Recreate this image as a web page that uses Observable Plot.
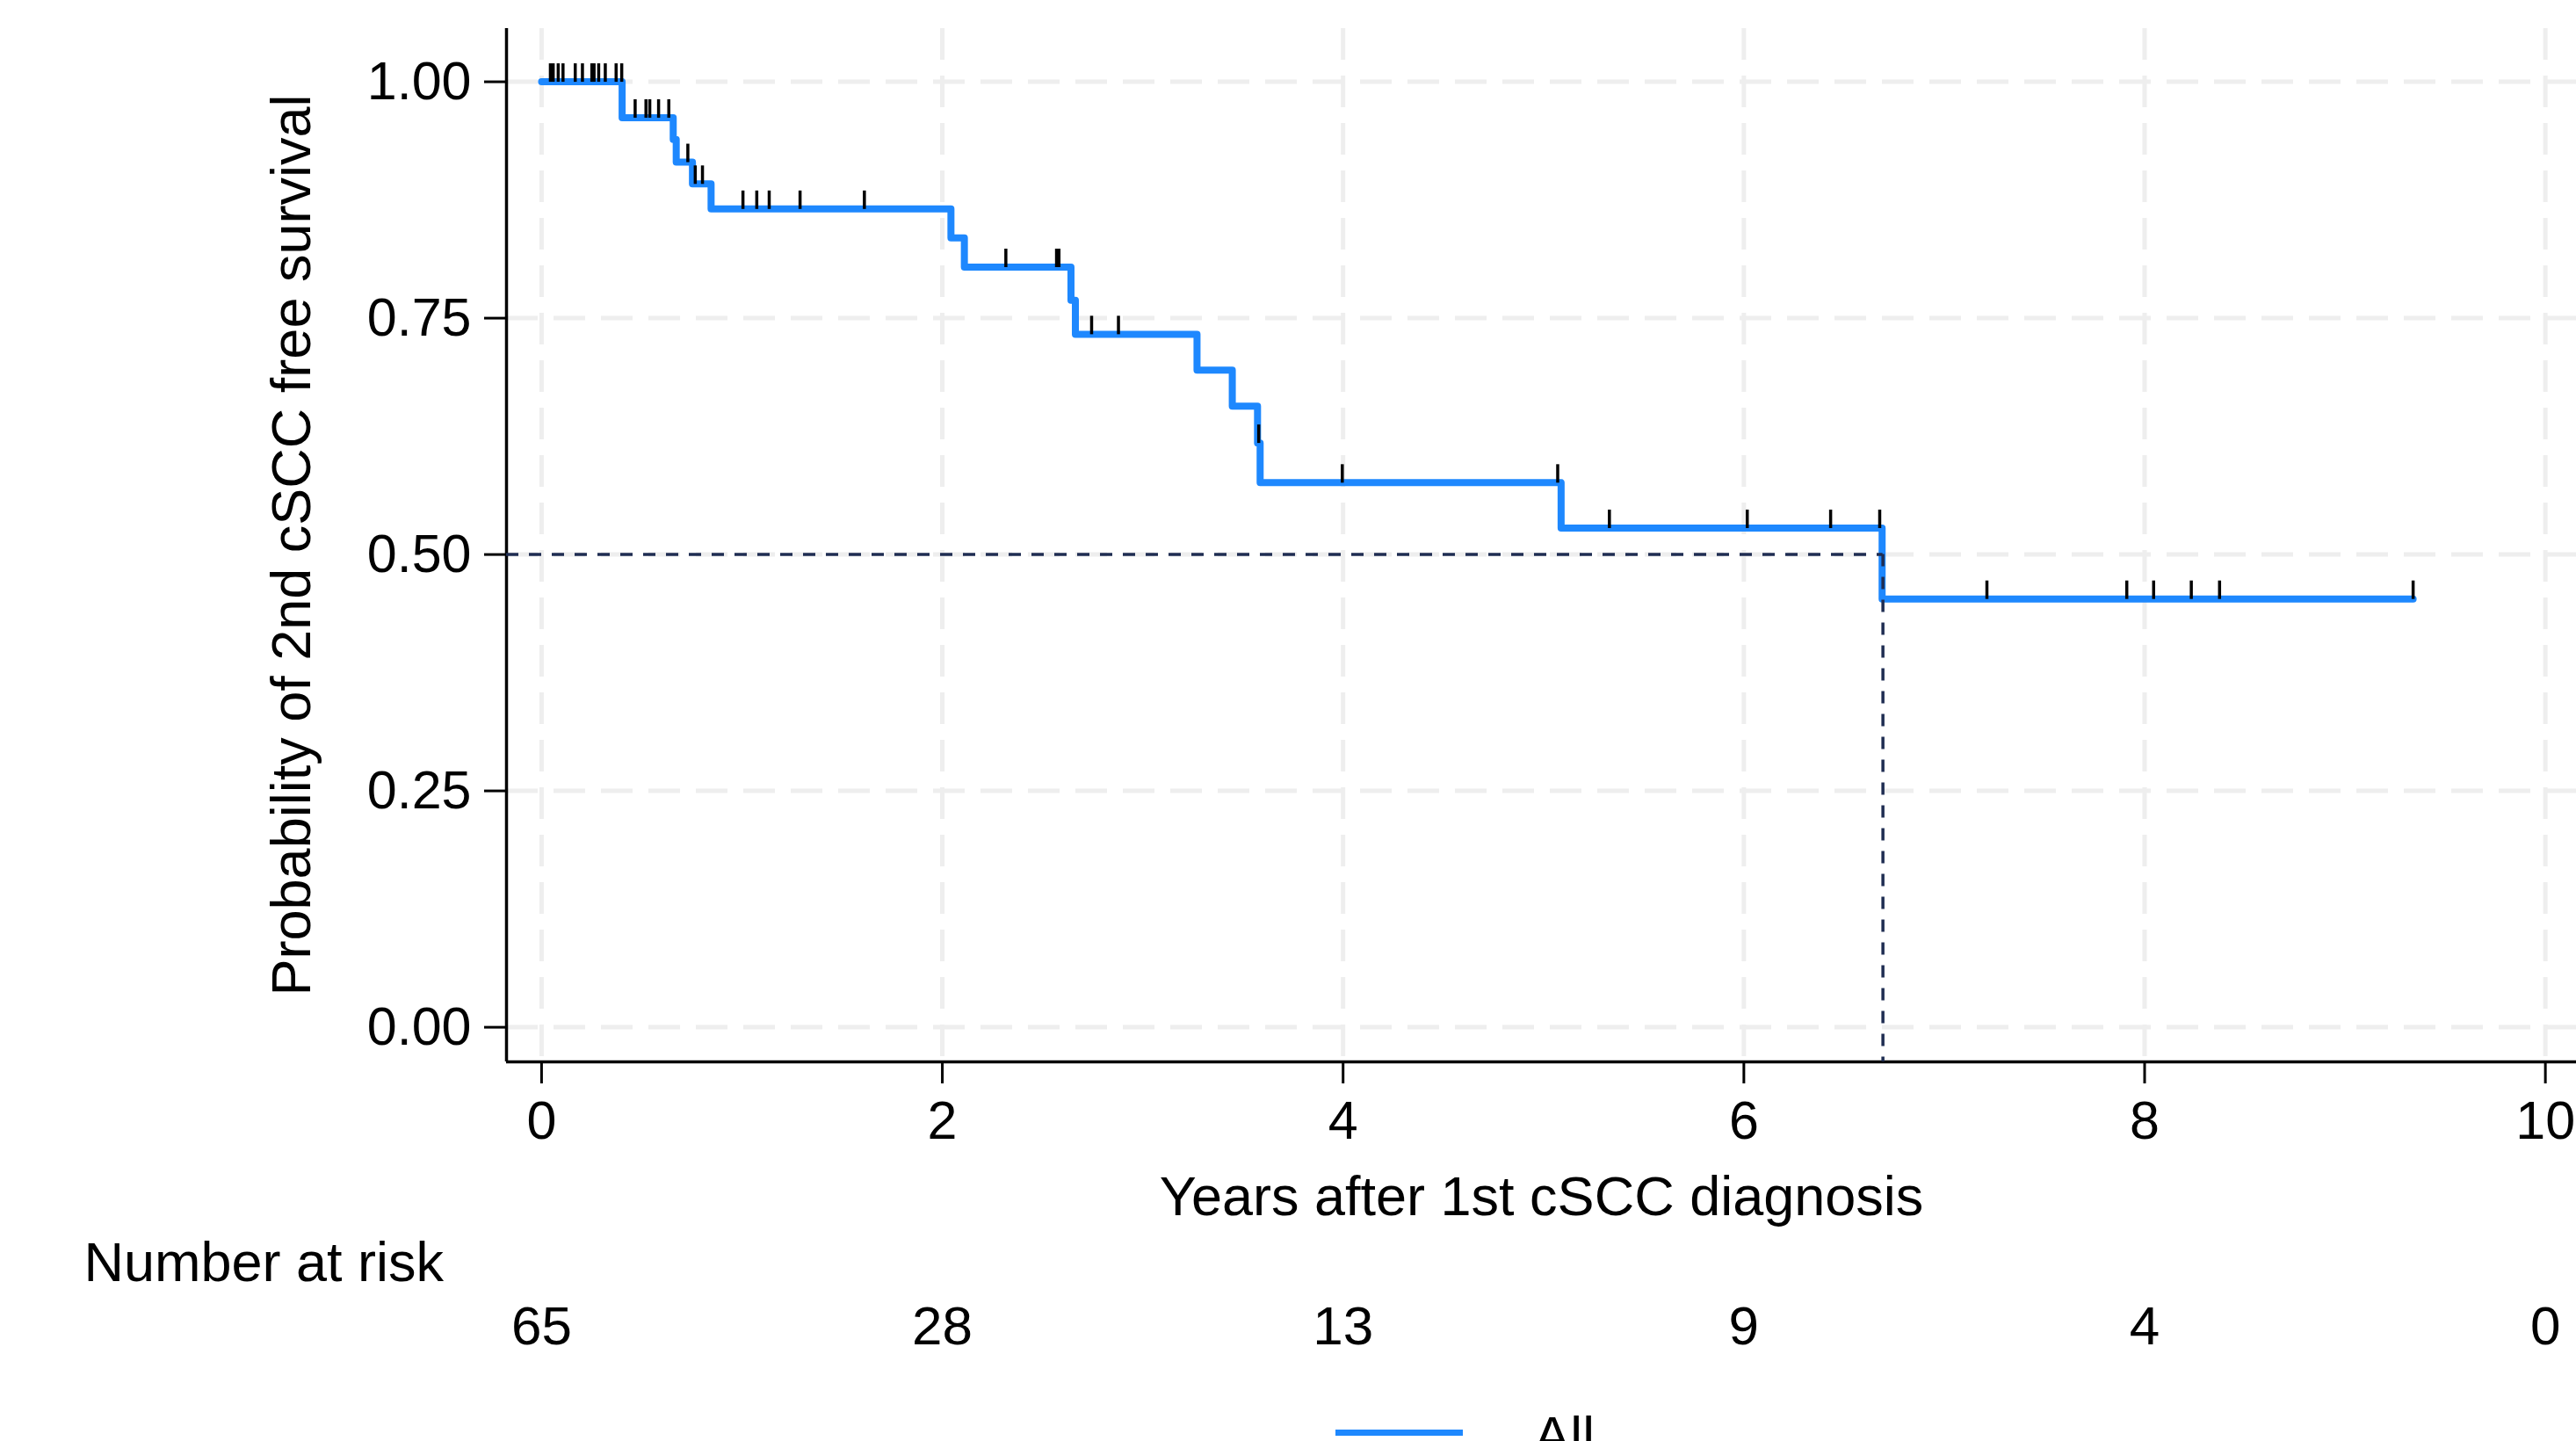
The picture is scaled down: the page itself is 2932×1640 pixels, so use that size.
<!DOCTYPE html>
<html>
<head>
<meta charset="utf-8">
<script src="https://cdn.jsdelivr.net/npm/d3@7"></script>
<script src="https://cdn.jsdelivr.net/npm/@observablehq/plot@0.6"></script>
<style>
  html, body { margin: 0; padding: 0; background: #ffffff; overflow: hidden; }
  #wrap { position: relative; width: 2932px; height: 1640px; font-family: "Liberation Sans", Arial, Helvetica, sans-serif; }
  #wrap svg { display: block; }
  svg g[aria-label$="tick"] path, svg g[aria-label$="axis"] .tick line { stroke-width: 3px; }
  .legend-swatch { position: absolute; left: 1520px; top: 1627px; width: 145px; height: 7px; }
  .legend-label { position: absolute; left: 1746px; top: 1603px; font-size: 62px; line-height: 62px; color: #000; }
</style>
</head>
<body>
<div id="wrap"></div>
<script>
// ---------------- data ----------------
const xTicks = [0, 2, 4, 6, 8, 10];
const yTicks = [0, 0.25, 0.5, 0.75, 1];

// Kaplan–Meier steps: event time (years) and survival just after it
const startSurv = 1;
const eventTimes = [0.402, 0.657, 0.672, 0.753, 0.846, 2.043, 2.110, 2.642, 2.664, 3.271, 3.447, 3.573, 3.586, 5.088, 6.690];
const survAfter  = [0.962, 0.939, 0.915, 0.892, 0.8655, 0.835, 0.804, 0.769, 0.733, 0.695, 0.657, 0.618, 0.576, 0.528, 0.453];

// censoring times (years)
const censorTimes = [
  0.044, 0.058, 0.083, 0.107, 0.168, 0.204, 0.251, 0.262, 0.285, 0.318, 0.372, 0.400,
  0.467, 0.521, 0.540, 0.584, 0.635,
  0.730,
  0.767, 0.803,
  1.005, 1.074, 1.136, 1.290, 1.611,
  2.317, 2.570, 2.582,
  2.745, 2.879,
  3.579,
  3.996, 5.071,
  5.329, 6.017, 6.433, 6.678,
  7.213, 7.911, 8.045, 8.233, 8.374, 9.340
];

// median survival
const medianTime = 6.694;
const medianSurv = 0.5;

// number at risk table
const riskTimes  = [0, 2, 4, 6, 8, 10];
const riskCounts = [65, 28, 13, 9, 4, 0];

const seriesName = "All";
const xLabel = "Years after 1st cSCC diagnosis";
const yLabel = "Probability of 2nd cSCC free survival";
const riskTitle = "Number at risk";

// ---------------- build ----------------
const colorKM = "#1e88fe";
const colorMedian = "#1f2d52";
const gridColor = "#eeeeee";
const tickFont = 61;
const labelFont = 63;
const riskFont = 62;

const xDomain = [-0.175, 10.155];
const yDomain = [-0.0366, 1.0563];

function survAt(t) {
  let s = startSurv;
  for (let i = 0; i < eventTimes.length; i++) if (eventTimes[i] <= t) s = survAfter[i];
  return s;
}

const lastTime = d3.max(censorTimes);
const lineData = [{time: 0, surv: startSurv}]
  .concat(eventTimes.map((t, i) => ({time: t, surv: survAfter[i]})))
  .concat([{time: lastTime, surv: survAt(lastTime)}]);

const censorData = censorTimes.map(t => ({time: t, surv: survAt(t)}));
const riskData = riskTimes.map((t, i) => ({time: t, n: riskCounts[i]}));

// vertical censor tick drawn above the curve
const censorSymbol = {
  draw(context) { context.moveTo(0, 0); context.lineTo(0, -21); }
};

const chart = Plot.plot({
  width: 2932,
  height: 1600,
  marginLeft: 576,
  marginRight: 0,
  marginTop: 32,
  marginBottom: 392,
  style: {
    fontFamily: '"Liberation Sans", Arial, Helvetica, sans-serif',
    fontSize: tickFont + "px",
    color: "#000",
    background: "#fff",
    overflow: "visible"
  },
  x: {domain: xDomain, ticks: xTicks, tickSize: 25, tickPadding: 19, tickFormat: d3.format("d"), label: null},
  y: {domain: yDomain, ticks: yTicks, tickSize: 25, tickPadding: 15, tickFormat: d3.format(".2f"), label: null},
  marks: [
    // grid
    Plot.ruleX(xTicks, {stroke: gridColor, strokeWidth: 5, strokeDasharray: "36,18"}),
    Plot.ruleY(yTicks, {stroke: gridColor, strokeWidth: 5, strokeDasharray: "36,18"}),
    // axis lines
    Plot.ruleX([xDomain[0]], {stroke: "#000", strokeWidth: 3.5}),
    Plot.ruleY([yDomain[0]], {stroke: "#000", strokeWidth: 3.5}),
    // KM curve
    Plot.line(lineData, {x: "time", y: "surv", curve: "step-after", stroke: colorKM, strokeWidth: 8, strokeLinejoin: "round", strokeLinecap: "round"}),
    // median lines
    Plot.ruleY([medianSurv], {x1: xDomain[0], x2: medianTime, stroke: colorMedian, strokeWidth: 3.5, strokeDasharray: "14,12"}),
    Plot.ruleX([medianTime], {y1: medianSurv, y2: yDomain[0], stroke: colorMedian, strokeWidth: 3.5, strokeDasharray: "14,12"}),
    // censor marks
    Plot.dot(censorData, {x: "time", y: "surv", symbol: censorSymbol, r: 5, fill: "none", stroke: "#000", strokeWidth: 3.5}),
    // axis titles
    Plot.text([xLabel], {frameAnchor: "bottom", textAnchor: "middle", lineAnchor: "bottom", dy: 174, fontSize: labelFont, fill: "#000"}),
    Plot.text([yLabel], {frameAnchor: "left", textAnchor: "middle", rotate: -90, lineAnchor: "bottom", dx: -224, fontSize: labelFont, fill: "#000"}),
    // risk table
    Plot.text([riskTitle], {frameAnchor: "bottom-left", textAnchor: "start", lineAnchor: "bottom", dx: -481, dy: 249, fontSize: labelFont, fill: "#000"}),
    Plot.text(riskData, {x: "time", text: d => String(d.n), frameAnchor: "bottom", textAnchor: "middle", lineAnchor: "bottom", dy: 321, fontSize: riskFont, fill: "#000"})
  ]
});

const wrap = document.getElementById("wrap");
wrap.appendChild(chart);

// legend below the chart
const sw = document.createElement("div");
sw.className = "legend-swatch";
sw.style.background = colorKM;
wrap.appendChild(sw);
const lab = document.createElement("div");
lab.className = "legend-label";
lab.textContent = seriesName;
wrap.appendChild(lab);
</script>
</body>
</html>
